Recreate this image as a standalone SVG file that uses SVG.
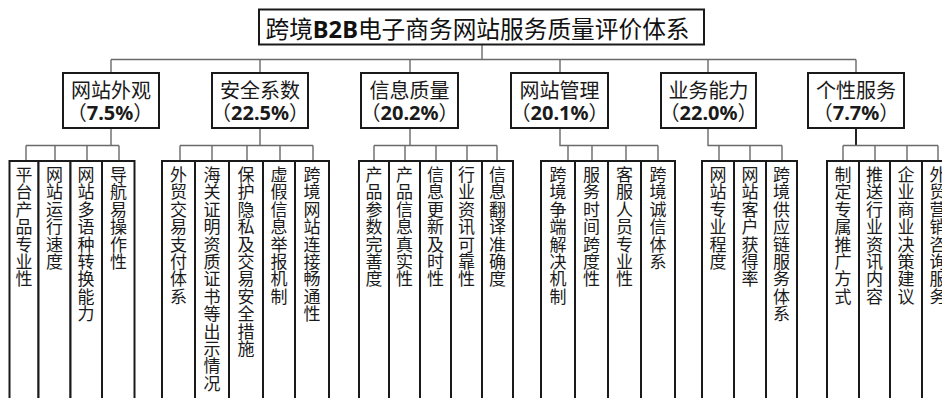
<svg xmlns="http://www.w3.org/2000/svg" width="942" height="398" viewBox="0 0 942 398">
<style>
.bg{fill:#fff}
.box{fill:#fff;stroke:#1a1a1a;stroke-width:2}
.leaf{fill:#fff;stroke:#1a1a1a;stroke-width:2}
.con{fill:none;stroke:#6a6a6a;stroke-width:1.4}
.conb{fill:none;stroke:#222;stroke-width:2}
.title{font-family:"Noto Sans CJK SC","Noto Sans",sans-serif;font-size:23.7px;fill:#111;text-anchor:middle}
.cat{font-family:"Noto Sans CJK SC","Noto Sans",sans-serif;font-size:20px;fill:#1a1a1a;text-anchor:middle}
.num{font-family:"Noto Sans","Noto Sans CJK SC",sans-serif;font-weight:bold}
.lt{font-family:"Noto Sans CJK SC","Noto Sans",sans-serif;font-size:17px;fill:#1a1a1a;writing-mode:vertical-rl;letter-spacing:0.4px;text-anchor:start}
</style>
<rect class="bg" x="0" y="0" width="942" height="398"/>

<g id="connectors">
<path class="con" d="M482,45V59.5M111,59.5H856M111,59.5V73M260,59.5V73M410,59.5V73M560,59.5V73M708,59.5V73M856,59.5V73"/>
<path class="con" d="M111,128V145.5M26,145.5H119M26,145.5V161M55,145.5V161M87,145.5V161M119,145.5V161"/>
<path class="con" d="M260,128V145.5M180,145.5H313M180,145.5V161M212,145.5V161M247,145.5V161M280,145.5V161M313,145.5V161"/>
<path class="con" d="M410,128V145.5M374,145.5H497M374,145.5V161M405,145.5V161M436,145.5V161M467,145.5V161M497,145.5V161"/>
<path class="con" d="M560,128V145.5H658M568,145.5V161M592,145.5V161M626,145.5V161M658,145.5V161"/>
<path class="con" d="M708,128V145.5H782M719,145.5V161M750,145.5V161M782,145.5V161"/>
<path class="conb" d="M856,128V145.5"/>
<path class="con" d="M843,145.5H938M843,145.5V161M875,145.5V161M907,145.5V161M938,145.5V161"/>
</g>

<g id="root">
<rect class="box" x="259" y="9.5" width="445" height="35"/>
<text class="title" x="477.5" y="37.8">跨境<tspan class="num">B2B</tspan>电子商务网站服务质量评价体系</text>
</g>

<g id="cat1"><rect class="box" x="63" y="73" width="96" height="55"/>
<text class="cat" x="111" y="97.5">网站外观</text><text class="cat" x="110" y="120">（<tspan class="num">7.5%</tspan>）</text></g>
<g id="cat2"><rect class="box" x="212" y="73" width="96" height="55"/>
<text class="cat" x="260" y="97.5">安全系数</text><text class="cat" x="260" y="120">（<tspan class="num">22.5%</tspan>）</text></g>
<g id="cat3"><rect class="box" x="361" y="73" width="97" height="55"/>
<text class="cat" x="409.5" y="97.5">信息质量</text><text class="cat" x="409.5" y="120">（<tspan class="num">20.2%</tspan>）</text></g>
<g id="cat4"><rect class="box" x="511" y="73" width="97" height="55"/>
<text class="cat" x="559.5" y="97.5">网站管理</text><text class="cat" x="559.5" y="120">（<tspan class="num">20.1%</tspan>）</text></g>
<g id="cat5"><rect class="box" x="661" y="73" width="95" height="55"/>
<text class="cat" x="708.5" y="97.5">业务能力</text><text class="cat" x="708.5" y="120">（<tspan class="num">22.0%</tspan>）</text></g>
<g id="cat6"><rect class="box" x="808" y="73" width="96" height="55"/>
<text class="cat" x="856" y="97.5">个性服务</text><text class="cat" x="856" y="120">（<tspan class="num">7.7%</tspan>）</text></g>

<g id="leaf1-1"><rect class="leaf" x="9.5" y="161" width="29" height="260"/><text class="lt" x="24" y="166">平台产品专业性</text></g>
<g id="leaf1-2"><rect class="leaf" x="38.5" y="161" width="32" height="260"/><text class="lt" x="54.5" y="166">网站运行速度</text></g>
<g id="leaf1-3"><rect class="leaf" x="70.5" y="161" width="31.5" height="260"/><text class="lt" x="86" y="166">网站多语种转换能力</text></g>
<g id="leaf1-4"><rect class="leaf" x="102" y="161" width="32.5" height="260"/><text class="lt" x="118.5" y="166">导航易操作性</text></g>

<g id="leaf2-1"><rect class="leaf" x="162" y="161" width="33" height="260"/><text class="lt" x="178.5" y="166">外贸交易支付体系</text></g>
<g id="leaf2-2"><rect class="leaf" x="195" y="161" width="34" height="260"/><text class="lt" x="212" y="166">海关证明资质证书等出示情况</text></g>
<g id="leaf2-3"><rect class="leaf" x="229" y="161" width="34" height="260"/><text class="lt" x="246" y="166">保护隐私及交易安全措施</text></g>
<g id="leaf2-4"><rect class="leaf" x="263" y="161" width="32" height="260"/><text class="lt" x="279" y="166">虚假信息举报机制</text></g>
<g id="leaf2-5"><rect class="leaf" x="295" y="161" width="34" height="260"/><text class="lt" x="312" y="166">跨境网站连接畅通性</text></g>

<g id="leaf3-1"><rect class="leaf" x="359" y="161" width="30" height="260"/><text class="lt" x="374" y="166">产品参数完善度</text></g>
<g id="leaf3-2"><rect class="leaf" x="389" y="161" width="31" height="260"/><text class="lt" x="404.5" y="166">产品信息真实性</text></g>
<g id="leaf3-3"><rect class="leaf" x="420" y="161" width="31" height="260"/><text class="lt" x="435.5" y="166">信息更新及时性</text></g>
<g id="leaf3-4"><rect class="leaf" x="451" y="161" width="31" height="260"/><text class="lt" x="466.5" y="166">行业资讯可靠性</text></g>
<g id="leaf3-5"><rect class="leaf" x="482" y="161" width="31" height="260"/><text class="lt" x="497.5" y="166">信息翻译准确度</text></g>

<g id="leaf4-1"><rect class="leaf" x="541" y="161" width="34" height="260"/><text class="lt" x="558" y="166">跨境争端解决机制</text></g>
<g id="leaf4-2"><rect class="leaf" x="575" y="161" width="33" height="260"/><text class="lt" x="591.5" y="166">服务时间跨度性</text></g>
<g id="leaf4-3"><rect class="leaf" x="608" y="161" width="33" height="260"/><text class="lt" x="624.5" y="166">客服人员专业性</text></g>
<g id="leaf4-4"><rect class="leaf" x="641" y="161" width="34" height="260"/><text class="lt" x="658" y="166">跨境诚信体系</text></g>

<g id="leaf5-1"><rect class="leaf" x="702" y="161" width="32" height="260"/><text class="lt" x="718" y="166">网站专业程度</text></g>
<g id="leaf5-2"><rect class="leaf" x="734" y="161" width="32" height="260"/><text class="lt" x="750" y="166">网站客户获得率</text></g>
<g id="leaf5-3"><rect class="leaf" x="766" y="161" width="31" height="260"/><text class="lt" x="781.5" y="166">跨境供应链服务体系</text></g>

<g id="leaf6-1"><rect class="leaf" x="827" y="161" width="32" height="260"/><text class="lt" x="843" y="166">制定专属推广方式</text></g>
<g id="leaf6-2"><rect class="leaf" x="859" y="161" width="31" height="260"/><text class="lt" x="874.5" y="166">推送行业资讯内容</text></g>
<g id="leaf6-3"><rect class="leaf" x="890" y="161" width="32" height="260"/><text class="lt" x="906" y="166">企业商业决策建议</text></g>
<g id="leaf6-4"><rect class="leaf" x="922" y="161" width="32" height="260"/><text class="lt" x="938" y="166">外贸营销咨询服务</text></g>
</svg>
